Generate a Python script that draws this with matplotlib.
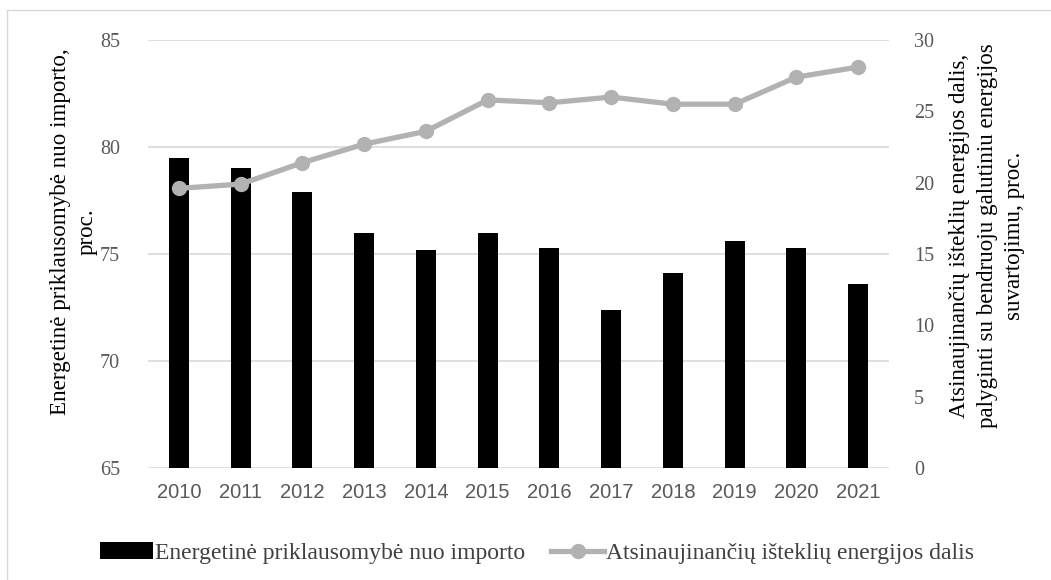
import matplotlib
matplotlib.use("Agg")
import matplotlib.pyplot as plt
from matplotlib.lines import Line2D
import numpy as np

# duomenys
metai = ['2010', '2011', '2012', '2013', '2014', '2015',
         '2016', '2017', '2018', '2019', '2020', '2021']
priklausomybe = [79.5, 79.0, 77.9, 76.0, 75.2, 76.0, 75.3, 72.4, 74.1, 75.6, 75.3, 73.6]
ae_dalis = [19.6, 19.9, 21.4, 22.7, 23.6, 25.8, 25.6, 26.0, 25.5, 25.5, 27.4, 28.1]

serif = ['Liberation Serif', 'DejaVu Serif']
sans = ['Liberation Sans', 'DejaVu Sans']
pilka = '#595959'
W, H = 1051, 580

fig = plt.figure(figsize=(W / 100, H / 100), dpi=100)
fig.patch.set_facecolor('white')
# remelio virsus ir kaire (nukirpta diagrama)
fig.add_artist(Line2D([7 / W, 1], [1 - 10 / H, 1 - 10 / H], transform=fig.transFigure,
                      color='#D9D9D9', linewidth=1))
fig.add_artist(Line2D([7 / W, 7 / W], [0, 1 - 10 / H], transform=fig.transFigure,
                      color='#D9D9D9', linewidth=1))

ax = fig.add_axes([148 / W, 1 - 468 / H, 741 / W, 428 / H])
x = np.arange(len(metai))
ax.bar(x, priklausomybe, width=0.32, color='black', zorder=2,
       label='Energetinė priklausomybė nuo importo')
ax.set_ylim(65, 85)
ax.set_yticks([65, 70, 75, 80, 85])
ax.set_xlim(-0.5, len(metai) - 0.5)
ax.set_xticks(x)
ax.set_xticklabels(metai, fontfamily=sans, fontsize=14.5, color=pilka)
ax.grid(axis='y', color='#D9D9D9', linewidth=1.2, zorder=0)
ax.set_axisbelow(True)
for s in ax.spines.values():
    s.set_visible(False)
ax.tick_params(axis='both', length=0)
ax.tick_params(axis='y', pad=20)
ax.tick_params(axis='x', pad=11)
for t in ax.get_yticklabels():
    t.set_fontfamily(serif)
    t.set_fontsize(14.5)
    t.set_color(pilka)

ax2 = ax.twinx()
ax2.plot(x, ae_dalis, color='#B2B2B2', linewidth=3.8, marker='o',
         markersize=10, label='Atsinaujinančių išteklių energijos dalis', zorder=3)
ax2.set_ylim(0, 30)
ax2.set_yticks([0, 5, 10, 15, 20, 25, 30])
for s in ax2.spines.values():
    s.set_visible(False)
ax2.tick_params(axis='y', length=0, pad=18)
for t in ax2.get_yticklabels():
    t.set_fontfamily(serif)
    t.set_fontsize(14.5)
    t.set_color(pilka)

# asiu pavadinimai
fig.text(74 / W, 1 - 232 / H,
         'Energetinė priklausomybė nuo importo,\nproc.',
         rotation=90, ha='center', va='center', multialignment='center',
         fontfamily=serif, fontsize=16.6, linespacing=1.35)
fig.text(987 / W, 1 - 236 / H,
         'Atsinaujinančių išteklių energijos dalis,\n'
         'palyginti su bendruoju galutiniu energijos\nsuvartojimu, proc.',
         rotation=90, ha='center', va='center', multialignment='center',
         fontfamily=serif, fontsize=16.6, linespacing=1.4)

h1, l1 = ax.get_legend_handles_labels()
h2, l2 = ax2.get_legend_handles_labels()
leg = fig.legend(h1 + h2, l1 + l2, loc='center', ncol=2,
                 bbox_to_anchor=(537 / W, 1 - 553 / H), frameon=False,
                 prop={'family': serif, 'size': 17},
                 handlelength=2.25, handletextpad=0.08, columnspacing=1.1,
                 borderpad=0, borderaxespad=0)
for t in leg.get_texts():
    t.set_color('#404040')

fig.savefig('out.png', dpi=100, facecolor='white')
